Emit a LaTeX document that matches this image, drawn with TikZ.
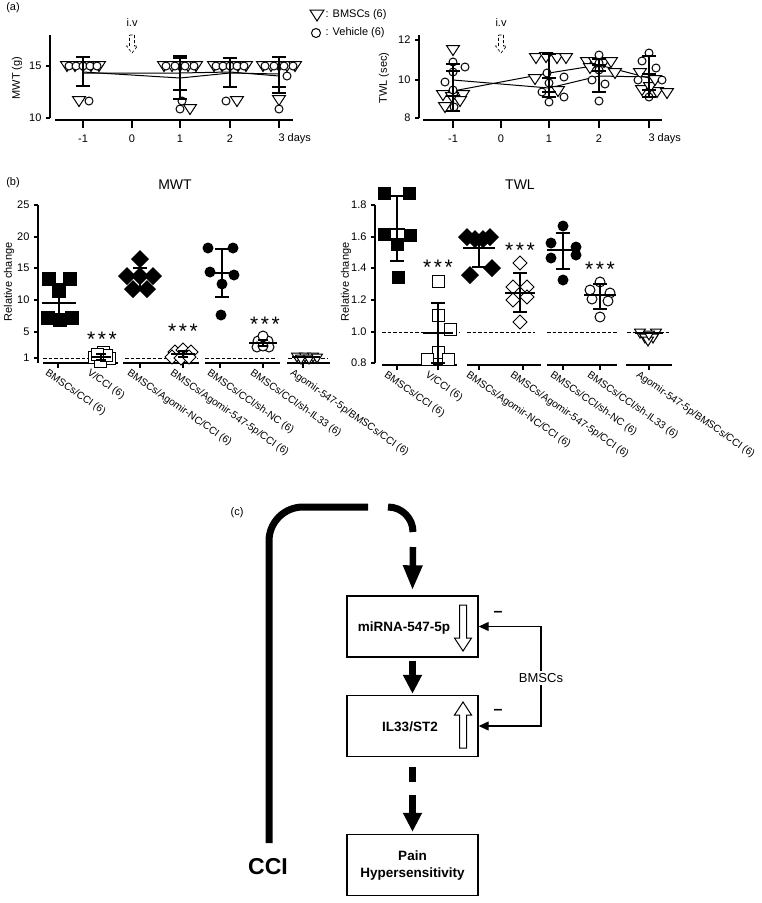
\documentclass[tikz,border=0pt]{standalone}
\usepackage{fontspec}
\setmainfont{Liberation Sans}
\usetikzlibrary{arrows.meta}
\newcommand{\fsz}[1]{\fontsize{#1}{#1}\selectfont}
\tikzset{
  mk/.style={line width=1pt},
  ebar/.style={line width=2.6pt},
  ax/.style={line width=1.1pt},
  mline/.style={line width=1pt},
  dline/.style={line width=0.8pt, dash pattern=on 3.5pt off 2pt},
  catlab/.style={rotate=-35, anchor=north west, inner sep=0pt, font=\fsz{10.3}},
  stars/.style={anchor=base, inner sep=0pt, font=\fsz{21}},
  pbox/.style={draw, line width=1.4pt, minimum width=131pt, minimum height=61pt, inner sep=0pt},
  btxt/.style={font=\fontsize{13.5}{17}\selectfont\bfseries, align=center},
  fb/.style={line width=1.2pt, -{Triangle[width=9pt,length=10pt]}},
  openarr/.style={line width=1pt, fill=white},
  ivarr/.style={line width=0.6pt, densely dashed, fill=white}
}
% panel (a) markers
\newcommand{\TriA}[2]{\draw[mk,fill=white] (#1,#2) ++(-6.5,-4.5) -- ++(13,0) -- ++(-6.5,10) -- cycle;}
\newcommand{\CirA}[2]{\draw[mk,fill=white] (#1,#2) circle[radius=4pt];}
\newcommand{\EbA}[3]{\draw[ebar] (#1,#2) -- (#1,#3); \draw[ebar] (#1-7,#2) -- (#1+7,#2); \draw[ebar] (#1-7,#3) -- (#1+7,#3);}
% panel (b) markers
\newcommand{\SqF}[2]{\fill (#1,#2) ++(-7,-7) rectangle ++(14,14);}
\newcommand{\SqFs}[2]{\fill (#1,#2) ++(-6.5,-6.5) rectangle ++(13,13);}
\newcommand{\SqO}[2]{\draw[mk,fill=white] (#1,#2) ++(-6,-6) rectangle ++(12,12);}
\newcommand{\DmF}[2]{\fill (#1,#2) ++(-9,0) -- ++(9,-9) -- ++(9,9) -- ++(-9,9) -- cycle;}
\newcommand{\DmO}[2]{\draw[mk,fill=white] (#1,#2) ++(-7,0) -- ++(7,-7) -- ++(7,7) -- ++(-7,7) -- cycle;}
\newcommand{\CiF}[2]{\fill (#1,#2) circle[radius=5.5pt];}
\newcommand{\CiO}[2]{\draw[mk,fill=white] (#1,#2) circle[radius=5pt];}
\newcommand{\TrB}[2]{\draw[mk,fill=white] (#1,#2) ++(-5.5,-4) -- ++(11,0) -- ++(-5.5,9) -- cycle;}
% x top mean bottom caphalf meanhalf
\newcommand{\EbB}[6]{\draw[ebar] (#1,#2) -- (#1,#4); \draw[ebar] (#1-#5,#2) -- (#1+#5,#2); \draw[ebar] (#1-#5,#4) -- (#1+#5,#4); \draw[line width=1.2pt] (#1-#6,#3) -- (#1+#6,#3);}
\newcommand{\threestars}{*\kern2.5pt*\kern2.5pt*}
\begin{document}
\begin{tikzpicture}[x=1pt,y=-1pt,font=\fsz{11}]
\useasboundingbox (0,0) rectangle (762,903);
\fill[white] (0,0) rectangle (762,903);

%================ PANEL (a) =================
\node (pa) at (13,8) {(a)};
% legend
\draw[mk,fill=white] (317,15) ++(-7,-5) -- ++(14,0) -- ++(-7,11) -- cycle;
\node[anchor=west] (lg1) at (322,15) {: BMSCs (6)};
\draw[mk,fill=white] (316,33) circle[radius=4.5pt];
\node[anchor=west] (lg2) at (322,33) {: Vehicle (6)};

% ---- left (MWT)
\draw[ax] (50,35) -- (50,118);
\draw[ax] (46,66) -- (50,66);
\draw[ax] (46,118) -- (50,118);
\node[anchor=east] (ya15) at (45,66) {15};
\node[anchor=east] (ya10) at (45,118) {10};
\draw[ax] (55,120) -- (293,120);
\foreach \x in {83,132,180,230,279} \draw[ax] (\x,120) -- (\x,128);
\node (xa1) at (83,139) {-1};
\node (xa2) at (132,139) {0};
\node (xa3) at (180,139) {1};
\node (xa4) at (230,139) {2};
\node[anchor=west] (xa5) at (275,139) {3 days};
\node[rotate=90] (yta) at (17,78) {MWT (g)};
\node (iv1) at (132,23) {i.v};
\draw[ivarr] (129.5,35) -- (134.5,35) -- (134.5,46) -- (137.5,46) -- (132,53) -- (126.5,46) -- (129.5,46) -- cycle;

\draw[mline] (83,72) -- (180,78) -- (230,73) -- (279,74);
\draw[mline] (83,73) -- (180,73) -- (230,72) -- (279,76);
% day -1
\foreach \d in {-16,-8,0,8,16} \TriA{83+\d}{66};
\foreach \d in {-14,-7,0,7,14} \CirA{83+\d}{66};
\TriA{79}{101} \CirA{89}{101}
\EbA{83}{57}{86}
% day 1
\foreach \d in {-16,-8,0,8,16} \TriA{180+\d}{66};
\foreach \d in {-14,-5,5,14} \CirA{180+\d}{66};
\CirA{182}{101} \CirA{180}{109} \TriA{190}{109}
\EbA{180}{56}{90} \EbA{180}{58}{99}
% day 2
\foreach \d in {-16,-8,0,8,16} \TriA{230+\d}{66};
\foreach \d in {-14,-7,0,7,14} \CirA{230+\d}{66};
\CirA{226}{101} \TriA{237}{101}
\EbA{230}{58}{87}
% day 3
\foreach \d in {-16,-8,0,8,16} \TriA{279+\d}{66};
\foreach \d in {-14,-5,5,14} \CirA{279+\d}{66};
\CirA{287}{76} \TriA{279}{100} \CirA{279}{109}
\EbA{279}{57}{87} \EbA{279}{57}{93}

% ---- right (TWL)
\draw[ax] (419,35) -- (419,118);
\foreach \y in {40,80,118} \draw[ax] (415,\y) -- (419,\y);
\node[anchor=east] (yb12) at (414,40) {12};
\node[anchor=east] (yb10) at (414,80) {10};
\node[anchor=east] (yb8) at (414,118) {8};
\draw[ax] (423,120) -- (662,120);
\foreach \x in {453,501,549,599,649} \draw[ax] (\x,120) -- (\x,128);
\node (xb1) at (453,139) {-1};
\node (xb2) at (501,139) {0};
\node (xb3) at (549,139) {1};
\node (xb4) at (599,139) {2};
\node[anchor=west] (xb5) at (645,139) {3 days};
\node[rotate=90] (ytb) at (384,78) {TWL (sec)};
\node (iv2) at (501,23) {i.v};
\draw[ivarr] (498.5,35) -- (503.5,35) -- (503.5,46) -- (506.5,46) -- (501,53) -- (495.5,46) -- (498.5,46) -- cycle;

\draw[mline] (453,91) -- (549,73) -- (599,65) -- (649,78);
\draw[mline] (453,80) -- (549,88) -- (599,76) -- (649,77);
% -1
\TriA{453}{50} \TriA{443}{95} \TriA{463}{95} \TriA{445}{107} \TriA{460}{101} \TriA{452}{97}
\CirA{453}{62} \CirA{465}{67} \CirA{453}{72} \CirA{445}{82} \CirA{453}{90} \CirA{454}{107}
\EbA{453}{64}{96} \EbA{453}{71}{111}
% 1
\TriA{536}{58} \TriA{546}{57} \TriA{557}{58} \TriA{566}{58} \TriA{535}{79} \TriA{558}{91}
\CirA{564}{77} \CirA{549}{83} \CirA{542}{92} \CirA{564}{97} \CirA{549}{102} \CirA{547}{73}
\EbA{549}{54}{92} \EbA{549}{78}{97}
% 2
\TriA{587}{62} \TriA{595}{62} \TriA{604}{62} \TriA{611}{62} \TriA{615}{73} \TriA{590}{68}
\CirA{599}{55} \CirA{599}{63} \CirA{599}{70} \CirA{592}{80} \CirA{605}{84} \CirA{599}{101}
\EbA{599}{59}{71} \EbA{599}{65}{92}
% 3
\TriA{640}{73} \TriA{642}{90} \TriA{657}{92} \TriA{667}{93} \TriA{650}{87} \TriA{655}{80}
\CirA{649}{53} \CirA{642}{61} \CirA{656}{68} \CirA{638}{80} \CirA{662}{80} \CirA{649}{97}
\EbA{649}{56}{90} \EbA{649}{74}{97}

%================ PANEL (b) =================
\node (pb) at (13,183) {(b)};
\node[font=\fsz{14}] (tmwt) at (175,185) {MWT};
\node[font=\fsz{14}] (ttwl) at (520,185) {TWL};

% ---- MWT axes
\draw[ax] (38,205) -- (38,363);
\foreach \y in {205,237,268,300,332,358} \draw[ax] (34,\y) -- (38,\y);
\node[anchor=east] (m25) at (33,205) {25};
\node[anchor=east] (m20) at (33,237) {20};
\node[anchor=east] (m15) at (33,268) {15};
\node[anchor=east] (m10) at (33,300) {10};
\node[anchor=east] (m5) at (33,332) {5};
\node[anchor=east] (m1) at (33,358) {1};
\node[rotate=90] (rcm) at (9,282) {Relative change};
\draw[ax] (43,363) -- (118,363);
\draw[ax] (123,363) -- (199,363);
\draw[ax] (205,363) -- (280,363);
\draw[ax] (287,363) -- (330,363);
\foreach \x in {58,100,140,183,220,263,303} \draw[ax] (\x,363) -- (\x,368);
\draw[dline] (43,358) -- (115,358);
\draw[dline] (125,358) -- (197,358);
\draw[dline] (205,358) -- (276,358);
\draw[dline] (288,358) -- (328,358);
% G1
\SqF{49}{279} \SqF{70}{279} \SqF{59}{291} \SqF{48}{318} \SqF{60}{320} \SqF{72}{318}
\EbB{59}{284}{303}{322}{7}{17}
% G2
\SqO{94}{357} \SqO{103}{352} \SqO{109}{358} \SqO{100}{361} \SqO{106}{355} \SqO{97}{354}
\EbB{101}{354}{357}{360}{5}{10}
\node[stars] (s1) at (102,346) {\threestars};
% G3
\DmF{140}{259} \DmF{127}{276} \DmF{140}{276} \DmF{153}{276} \DmF{133}{289} \DmF{147}{289}
\EbB{140}{268}{277}{287}{7}{11}
% G4
\DmO{175}{352} \DmO{183}{350} \DmO{191}{352} \DmO{172}{357} \DmO{181}{358} \DmO{189}{357}
\EbB{183}{351}{354}{357}{5}{12}
\node[stars] (s2) at (183,338) {\threestars};
% G5
\CiF{208}{248} \CiF{233}{248} \CiF{210}{272} \CiF{234}{275} \CiF{222}{284} \CiF{221}{315}
\EbB{222}{249}{273}{297}{7}{14}
% G6
\CiO{258}{341} \CiO{268}{341} \CiO{263}{336} \CiO{257}{347} \CiO{269}{347} \CiO{263}{346}
\EbB{263}{340}{343}{346}{5}{14}
\node[stars] (s3) at (265,331) {\threestars};
% G7
\TrB{297}{357} \TrB{305}{357} \TrB{313}{357} \TrB{301}{359} \TrB{309}{359} \TrB{317}{358}
\draw[line width=1.2pt] (292,357) -- (320,357);
% labels
\node[catlab] (cm1) at (49,368) {BMSCs/CCI (6)};
\node[catlab] (cm2) at (91,368) {V/CCI (6)};
\node[catlab] (cm3) at (131,368) {BMSCs/Agomir-NC/CCI (6)};
\node[catlab] (cm4) at (174,368) {BMSCs/Agomir-547-5p/CCI (6)};
\node[catlab] (cm5) at (211,368) {BMSCs/CCI/sh-NC (6)};
\node[catlab] (cm6) at (254,368) {BMSCs/CCI/sh-IL33 (6)};
\node[catlab] (cm7) at (294,368) {Agomir-547-5p/BMSCs/CCI (6)};

% ---- TWL axes
\draw[ax] (375,205) -- (375,363);
\foreach \y in {205,237,268,300,332,363} \draw[ax] (371,\y) -- (375,\y);
\node[anchor=east] (t18) at (370,205) {1.8};
\node[anchor=east] (t16) at (370,237) {1.6};
\node[anchor=east] (t14) at (370,268) {1.4};
\node[anchor=east] (t12) at (370,300) {1.2};
\node[anchor=east] (t10) at (370,332) {1.0};
\node[anchor=east] (t08) at (370,363) {0.8};
\node[rotate=90] (rct) at (346,282) {Relative change};
\draw[ax] (382,365) -- (457,365);
\draw[ax] (467,365) -- (541,365);
\draw[ax] (547,365) -- (617,365);
\draw[ax] (626,365) -- (672,365);
\foreach \x in {397,438,479,523,563,600,649} \draw[ax] (\x,365) -- (\x,370);
\draw[dline] (382,332) -- (460,332);
\draw[dline] (467,332) -- (535,332);
\draw[dline] (547,332) -- (617,332);
\draw[dline] (627,332) -- (670,332);
% G1
\SqFs{384}{193} \SqFs{409}{193} \SqFs{384}{234} \SqFs{410}{235} \SqFs{397}{244} \SqFs{398}{277}
\EbB{397}{196}{229}{261}{7}{8}
% G2
\SqO{438}{281} \SqO{438}{315} \SqO{450}{329} \SqO{438}{352} \SqO{427}{359} \SqO{448}{359}
\EbB{438}{303}{333}{363}{7}{15}
\node[stars] (s4) at (438,274) {\threestars};
% G3
\DmF{467}{237} \DmF{490}{237} \DmF{475}{239} \DmF{483}{239} \DmF{470}{275} \DmF{492}{268}
\EbB{479}{237}{248}{267}{7}{16}
% G4
\DmO{520}{263} \DmO{513}{287} \DmO{527}{287} \DmO{513}{300} \DmO{527}{297} \DmO{520}{322}
\EbB{520}{273}{293}{312}{7}{15}
\node[stars] (s5) at (520,257) {\threestars};
% G5
\CiF{563}{226} \CiF{551}{243} \CiF{576}{247} \CiF{551}{258} \CiF{576}{255} \CiF{563}{280}
\EbB{563}{233}{250}{269}{7}{16}
% G6
\CiO{600}{282} \CiO{590}{290} \CiO{610}{293} \CiO{592}{299} \CiO{608}{301} \CiO{600}{317}
\EbB{600}{284}{295}{309}{7}{16}
\node[stars] (s6) at (600,276) {\threestars};
% G7
\TrB{640}{333} \TrB{656}{333} \TrB{645}{338} \TrB{653}{338} \TrB{648}{341} \TrB{649}{335}
\draw[line width=1.2pt] (635,333) -- (663,333);
% labels
\node[catlab] (ct1) at (388,370) {BMSCs/CCI (6)};
\node[catlab] (ct2) at (429,370) {V/CCI (6)};
\node[catlab] (ct3) at (470,370) {BMSCs/Agomir-NC/CCI (6)};
\node[catlab] (ct4) at (514,370) {BMSCs/Agomir-547-5p/CCI (6)};
\node[catlab] (ct5) at (554,370) {BMSCs/CCI/sh-NC (6)};
\node[catlab] (ct6) at (591,370) {BMSCs/CCI/sh-IL33 (6)};
\node[catlab] (ct7) at (640,370) {Agomir-547-5p/BMSCs/CCI (6)};

%================ PANEL (c) =================
\node (pc) at (237,513) {(c)};
\node[pbox] (m) at (412.5,626.5) {};
\node[btxt] (mt) at (404,628) {miRNA-547-5p};
\node[pbox] (il) at (412.5,726) {};
\node[btxt] (it) at (410,727) {IL33/ST2};
\node[pbox, btxt] (pn) at (412.5,865) {Pain\\Hypersensitivity};
% open arrows in boxes
\draw[openarr] (459.5,605) -- (466.5,605) -- (466.5,638) -- (471.5,638) -- (463,651) -- (454.5,638) -- (459.5,638) -- cycle;
\draw[openarr] (459.5,748) -- (466.5,748) -- (466.5,715) -- (471.5,715) -- (463,702) -- (454.5,715) -- (459.5,715) -- cycle;
% CCI path
\node[font=\fsz{23}\bfseries] (cci) at (268,867) {CCI};
\coordinate (c0) at (269,843);
\coordinate (c1) at (368,507);
\draw[line width=7pt, rounded corners=34pt] (c0) -- (269,507) -- (c1);
\coordinate (c2) at (388,507);
\draw[line width=7pt] (c2) arc[start angle=90, end angle=0, radius=25pt];
\coordinate (a1s) at (413,547);
\draw[line width=6.5pt, -{Triangle[width=18pt,length=25pt]}] (a1s) -- ([yshift=5pt]m.north);
\draw[line width=6.5pt, -{Triangle[width=18pt,length=19pt]}] ([yshift=-3pt]m.south) -- ([yshift=1pt]il.north);
\draw[line width=6.5pt] ([yshift=-10pt]il.south) -- ([yshift=-25pt]il.south);
\draw[line width=6.5pt, -{Triangle[width=18pt,length=19pt]}] ([yshift=-38pt]il.south) -- ([yshift=2pt]pn.north);
% feedback
\node[font=\fsz{13}, fill=white, inner sep=2pt] (bm) at (541,678) {BMSCs};
\draw[fb] (bm) |- (m.east);
\draw[fb] (bm) |- (il.east);
\node[font=\fsz{16}\bfseries] (mn1) at (498,614) {–};
\node[font=\fsz{16}\bfseries] (mn2) at (498,712) {–};
\end{tikzpicture}
\end{document}
